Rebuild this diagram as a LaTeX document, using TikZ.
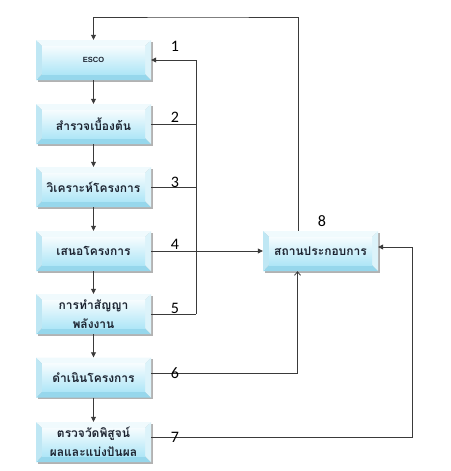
\documentclass[tikz,border=0pt]{standalone}
\usepackage{fontspec}
\setmainfont{Carlito}
\newfontfamily\thaifont[Script=Thai]{Loma}
\newfontfamily\escofont{Liberation Sans}
\usetikzlibrary{arrows.meta,shadows,calc}
\definecolor{bvtop}{HTML}{F0FAFD}
\definecolor{bvleft}{HTML}{BFE7F4}
\definecolor{bvright}{HTML}{DCF3FA}
\definecolor{bvbot}{HTML}{96D7EC}
\definecolor{facetop}{HTML}{F6FCFE}
\definecolor{facebot}{HTML}{AFE6F7}
\definecolor{txt}{HTML}{1C2330}
\definecolor{ln}{HTML}{3A3A3A}
\begin{document}
\begin{tikzpicture}[x=1pt,y=-1pt,
  bevbox/.style={minimum width=115pt, minimum height=40pt, inner sep=0pt,
    align=center, text=txt,
    font=\thaifont\bfseries\fontsize{12}{19.5}\selectfont,
    drop shadow={opacity=0.3, shadow xshift=1.5pt, shadow yshift=-1.5pt, fill=black},
    path picture={
      \fill[bvtop] (path picture bounding box.north west) -- (path picture bounding box.north east)
        -- ([xshift=-6pt,yshift=-6pt]path picture bounding box.north east)
        -- ([xshift=6pt,yshift=-6pt]path picture bounding box.north west) -- cycle;
      \fill[bvbot] (path picture bounding box.south west) -- (path picture bounding box.south east)
        -- ([xshift=-6pt,yshift=6pt]path picture bounding box.south east)
        -- ([xshift=6pt,yshift=6pt]path picture bounding box.south west) -- cycle;
      \fill[bvleft] (path picture bounding box.north west) -- (path picture bounding box.south west)
        -- ([xshift=6pt,yshift=6pt]path picture bounding box.south west)
        -- ([xshift=6pt,yshift=-6pt]path picture bounding box.north west) -- cycle;
      \fill[bvright] (path picture bounding box.north east) -- (path picture bounding box.south east)
        -- ([xshift=-6pt,yshift=6pt]path picture bounding box.south east)
        -- ([xshift=-6pt,yshift=-6pt]path picture bounding box.north east) -- cycle;
      \shade[top color=facetop, bottom color=facebot]
        ([xshift=6pt,yshift=-6pt]path picture bounding box.north west)
        rectangle ([xshift=-6pt,yshift=6pt]path picture bounding box.south east);
    }},
  conn/.style={draw=ln, line width=0.8pt},
  arr/.style={conn, -{Triangle[length=5pt,width=5pt]}},
  openarr/.style={conn, -{Straight Barb[length=3.5pt,width=6pt]}},
  num/.style={font=\fontsize{16}{18}\selectfont, text=black, inner sep=0pt}
]
\useasboundingbox (0,0) rectangle (450,471);

\node[bevbox] (b1) at (93.5,60) {\escofont\bfseries\fontsize{7.5}{8}\selectfont ESCO};
\node[bevbox] (b2) at (93.5,124) {สำรวจเบื้องต้น};
\node[bevbox] (b3) at (93.5,187) {วิเคราะห์โครงการ};
\node[bevbox] (b4) at (93.5,251) {เสนอโครงการ};
\node[bevbox] (b5) at (93.5,314) {การทำสัญญา\\พลังงาน};
\node[bevbox] (b6) at (93.5,377.5) {ดำเนินโครงการ};
\node[bevbox] (b7) at (93.5,442) {ตรวจวัดพิสูจน์\\ผลและแบ่งปันผล};
\node[bevbox] (b8) at (320.5,251) {สถานประกอบการ};

\coordinate (j1) at (196,60);
\coordinate (j5) at (196,314);
\coordinate (t1) at (200,17);
\coordinate (c7) at (412,437);

\draw[arr] (b1) -- (b2);
\draw[arr] (b2) -- (b3);
\draw[arr] (b3) -- (b4);
\draw[arr] (b4) -- (b5);
\draw[arr] (b5) -- (b6);
\draw[arr] (b6) -- (b7);

\draw[arr] (j5) -- (j1) -- (b1.east);
\draw[conn] (b2.east) -- (b2.east -| j1);
\draw[conn] (b3.east) -- (b3.east -| j1);
\draw[conn] (b5.east) -- (j5);
\draw[arr] (b4) -- (b8);
\draw[openarr] ([yshift=4.5pt]b6.east) -| ([xshift=-23pt]b8.south);
\draw[arr] ([yshift=5pt]b7.east) -- (c7) |- ([yshift=4pt]b8.east);
\draw[arr] ([xshift=-22.5pt]b8.north) |- (t1) -| (b1.north);

\node[num] (l1) at (175,46) {1};
\node[num] (l2) at (175,117) {2};
\node[num] (l3) at (175,182) {3};
\node[num] (l4) at (175,244) {4};
\node[num] (l5) at (175,308) {5};
\node[num] (l6) at (175,373) {6};
\node[num] (l7) at (175,437) {7};
\node[num] (l8) at (322,221) {8};
\end{tikzpicture}
\end{document}
